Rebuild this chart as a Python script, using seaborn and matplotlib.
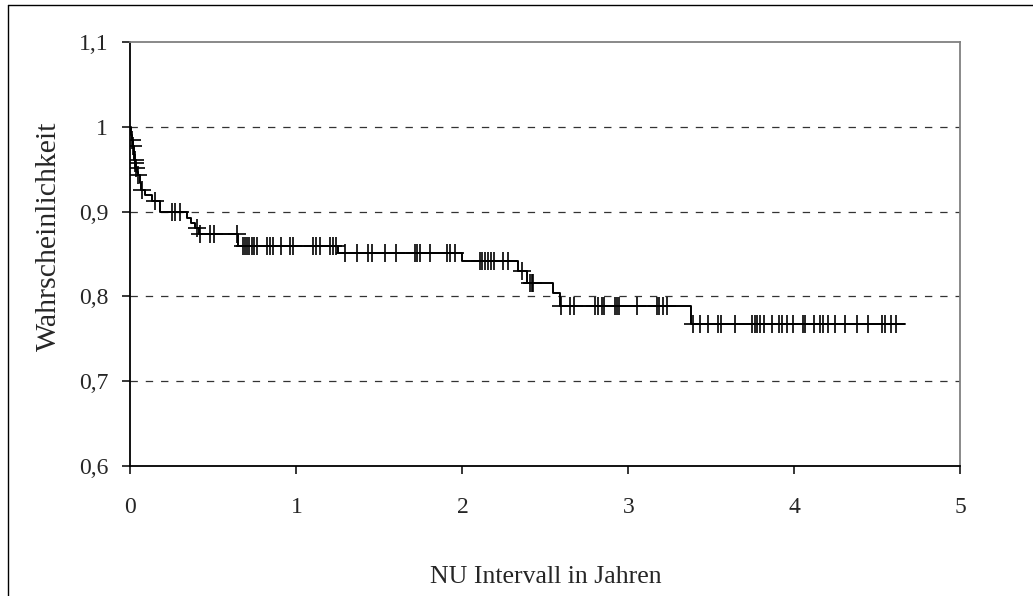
import numpy as np
import pandas as pd
import matplotlib
matplotlib.use("Agg")
import matplotlib.pyplot as plt
from matplotlib.lines import Line2D
import seaborn as sns

# Kaplan-Meier estimate: time of each change and the level that follows it
step_times = [0.0, 0.005, 0.010, 0.014, 0.020, 0.024, 0.028, 0.032, 0.040, 0.045,
              0.055, 0.062, 0.090, 0.130, 0.175, 0.338, 0.365, 0.390, 0.410, 0.645,
              1.252, 1.995, 2.336, 2.390, 2.543, 2.590, 3.375, 4.665]
survival = [1.000, 0.990, 0.984, 0.977, 0.970, 0.961, 0.957, 0.952, 0.947, 0.943,
            0.934, 0.925, 0.920, 0.912, 0.900, 0.892, 0.886, 0.881, 0.874, 0.860,
            0.851, 0.842, 0.830, 0.816, 0.804, 0.789, 0.768, 0.768]

# censored observations (years)
censor_times = [0.011, 0.015, 0.026, 0.029, 0.033, 0.047, 0.067, 0.150, 0.248, 0.268,
                0.298, 0.400, 0.420, 0.479, 0.505, 0.640,
                0.675, 0.690, 0.700, 0.715, 0.730, 0.745, 0.760, 0.820, 0.840, 0.860,
                0.905, 0.960, 0.980, 1.100, 1.120, 1.140, 1.200, 1.220, 1.240,
                1.290, 1.363, 1.430, 1.453, 1.533, 1.600, 1.714, 1.724, 1.744, 1.805,
                1.905, 1.925, 1.955,
                2.105, 2.120, 2.137, 2.155, 2.170, 2.190, 2.242, 2.276,
                2.357, 2.407, 2.417, 2.427,
                2.595, 2.648, 2.672, 2.800, 2.818, 2.838, 2.852, 2.920, 2.930, 2.940,
                3.053, 3.170, 3.186, 3.206, 3.230,
                3.390, 3.430, 3.480, 3.540, 3.560, 3.640, 3.742, 3.762, 3.776, 3.792,
                3.816, 3.863, 3.908, 3.923, 3.953, 3.993, 4.053, 4.063, 4.117, 4.154,
                4.174, 4.204, 4.244, 4.304, 4.375, 4.445, 4.526, 4.544, 4.584, 4.614]

x_ticks = [0, 1, 2, 3, 4, 5]
x_labels = ["0", "1", "2", "3", "4", "5"]
y_ticks = [0.6, 0.7, 0.8, 0.9, 1.0, 1.1]
y_labels = ["0,6", "0,7", "0,8", "0,9", "1", "1,1"]
grid_levels = [0.7, 0.8, 0.9, 1.0]

x_title = "NU Intervall in Jahren"
y_title = "Wahrscheinlichkeit"

sns.set_theme(style="white")
plt.rcParams["font.family"] = ["Liberation Serif", "DejaVu Serif"]
plt.rcParams["lines.scale_dashes"] = False

curve = pd.DataFrame({"t": step_times, "s": survival})
st = np.asarray(step_times)
sv = np.asarray(survival)
idx = np.searchsorted(st, np.asarray(censor_times), side="right") - 1
censored = pd.DataFrame({"t": censor_times, "s": sv[idx]})

fig = plt.figure(figsize=(10.33, 5.96), dpi=100)
ax = fig.add_axes([0.1263, 0.2181, 0.8035, 0.7114])

for g in grid_levels:
    ax.axhline(g, color="#333333", linewidth=0.9, linestyle=(0, (5.3, 5.7)), zorder=1)

sns.lineplot(data=curve, x="t", y="s", drawstyle="steps-post", estimator=None,
             color="black", linewidth=1.4, ax=ax, zorder=3)
sns.scatterplot(data=censored, x="t", y="s", marker="+", s=160, color="black",
                linewidth=1.2, ax=ax, zorder=4)

ax.set_xlim(0, 5)
ax.set_ylim(0.6, 1.1)
ax.set_xticks(x_ticks)
ax.set_xticklabels(x_labels)
ax.set_yticks(y_ticks)
ax.set_yticklabels(y_labels)
ax.set_xlabel(x_title, fontsize=18.5, labelpad=35)
ax.set_ylabel(y_title, fontsize=21.5)
ax.yaxis.set_label_coords(-0.0825, 0.542)

ax.tick_params(axis="both", which="major", direction="out", length=6, width=1.1,
               color="black", labelsize=17, bottom=True, left=True)
ax.tick_params(axis="x", pad=16)
ax.tick_params(axis="y", pad=10)
ax.xaxis.get_major_ticks()[-1].tick1line.set_color("#808080")

for side in ("left", "bottom"):
    ax.spines[side].set_color("black")
    ax.spines[side].set_linewidth(1.3)
for side in ("top", "right"):
    ax.spines[side].set_color("#808080")
    ax.spines[side].set_linewidth(1.3)

# frame lines along the left and top of the figure
fig.add_artist(Line2D([0.0073, 0.0073], [0.0, 0.9916], transform=fig.transFigure,
                      color="black", linewidth=1.0))
fig.add_artist(Line2D([0.0073, 1.0], [0.9916, 0.9916], transform=fig.transFigure,
                      color="black", linewidth=1.0))

fig.savefig("out.png", dpi=100, facecolor="white")
